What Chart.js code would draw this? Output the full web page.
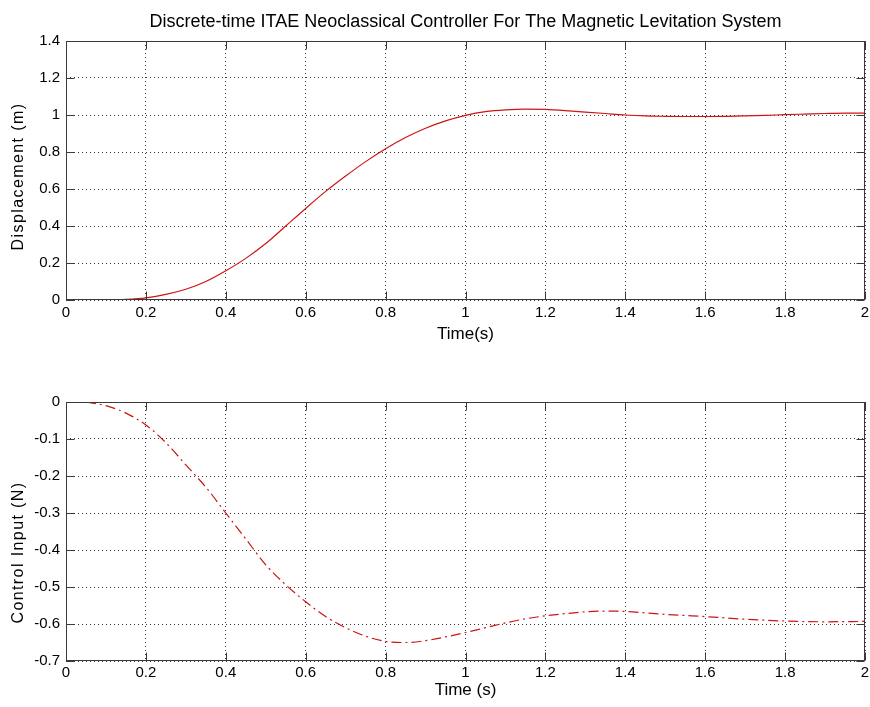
<!DOCTYPE html>
<html>
<head>
<meta charset="utf-8">
<script src="https://cdn.jsdelivr.net/npm/chart.js@4/dist/chart.umd.min.js"></script>
<style>
  body { margin: 0; background: #fff; }
  #wrap { position: relative; width: 870px; height: 707px; }
  canvas { position: absolute; left: 0; }
  #top { top: 0; }
  #bottom { top: 350px; }
</style>
</head>
<body>
<div id="wrap">
  <canvas id="top" width="870" height="350"></canvas>
  <canvas id="bottom" width="870" height="357"></canvas>
</div>
<script>
// displacement response (top plot)
const timeTop = [0.04, 0.1, 0.15, 0.2, 0.25, 0.3, 0.35, 0.4, 0.45, 0.5, 0.55, 0.6, 0.65, 0.7, 0.75, 0.8, 0.85, 0.9, 0.95, 1.0,
  1.05, 1.1, 1.15, 1.2, 1.25, 1.3, 1.35, 1.4, 1.45, 1.5, 1.55, 1.6, 1.65, 1.7, 1.75, 1.8, 1.85, 1.9, 1.95, 2.0];
const displacement = [0, 0.001, 0.004, 0.012, 0.03, 0.058, 0.1, 0.158, 0.225, 0.305, 0.4, 0.495, 0.587, 0.67, 0.748, 0.818, 0.878, 0.928, 0.968, 0.998,
  1.018, 1.028, 1.032, 1.03, 1.024, 1.016, 1.008, 1.0, 0.995, 0.993, 0.992, 0.992, 0.993, 0.995, 0.998, 1.002, 1.005, 1.008, 1.01, 1.01];

// control input (bottom plot)
const timeBottom = [0.05, 0.1, 0.15, 0.2, 0.25, 0.3, 0.35, 0.4, 0.45, 0.5, 0.55, 0.6, 0.65, 0.7, 0.75, 0.8, 0.85, 0.9, 0.95, 1.0,
  1.05, 1.1, 1.15, 1.2, 1.25, 1.3, 1.35, 1.4, 1.45, 1.5, 1.55, 1.6, 1.7, 1.8, 1.9, 2.0];
const controlInput = [0, -0.01, -0.03, -0.062, -0.11, -0.17, -0.23, -0.3, -0.37, -0.44, -0.494, -0.54, -0.58, -0.61, -0.633, -0.647, -0.65, -0.645, -0.635, -0.623,
  -0.61, -0.597, -0.586, -0.578, -0.572, -0.567, -0.565, -0.566, -0.57, -0.574, -0.577, -0.58, -0.587, -0.592, -0.594, -0.593];

const xTickLabels = ['0', '0.2', '0.4', '0.6', '0.8', '1', '1.2', '1.4', '1.6', '1.8', '2'];
const yTickLabelsTop = ['0', '0.2', '0.4', '0.6', '0.8', '1', '1.2', '1.4'];
const yTickLabelsBottom = ['-0.7', '-0.6', '-0.5', '-0.4', '-0.3', '-0.2', '-0.1', '0'];

const FONT = "'Liberation Sans', Arial, Helvetica, sans-serif";
const RED = '#cc1414';

// box round the axes with inward ticks, like matlab
const framePlugin = {
  id: 'frame',
  afterDatasetsDraw(chart) {
    const {ctx, chartArea: a, scales} = chart;
    const L = Math.round(a.left) + 0.5, R = Math.round(a.right) - 0.5;
    const T = Math.round(a.top) + 0.5, B = Math.round(a.bottom) - 0.5;
    ctx.save();
    ctx.strokeStyle = '#3a3a3a';
    ctx.lineWidth = 1;
    ctx.strokeRect(L, T, R - L, B - T);
    ctx.beginPath();
    scales.x.ticks.forEach(t => {
      const px = Math.round(scales.x.getPixelForValue(t.value)) + 0.5;
      ctx.moveTo(px, B); ctx.lineTo(px, B - 8);
      ctx.moveTo(px, T); ctx.lineTo(px, T + 8);
    });
    scales.y.ticks.forEach(t => {
      const py = Math.round(scales.y.getPixelForValue(t.value)) + 0.5;
      ctx.moveTo(L, py); ctx.lineTo(L + 8, py);
      ctx.moveTo(R, py); ctx.lineTo(R - 8, py);
    });
    ctx.stroke();
    ctx.restore();
  }
};

// vertical axis label (matlab puts it a bit off centre)
const yLabelPlugin = {
  id: 'yLabel',
  afterDraw(chart, args, opts) {
    const {ctx, chartArea: a} = chart;
    ctx.save();
    ctx.translate(19, (a.top + a.bottom) / 2 + opts.shift);
    ctx.rotate(-Math.PI / 2);
    ctx.font = '16px ' + FONT;
    ctx.letterSpacing = '1.4px';
    ctx.fillStyle = '#000';
    ctx.textAlign = 'center';
    ctx.textBaseline = 'middle';
    ctx.fillText(opts.text, 0, 0);
    ctx.restore();
  }
};

function makeChart(id, times, values, opt) {
  const pts = times.map((t, i) => ({x: t, y: values[i]}));
  const scales = {
    x: {
      type: 'linear',
      min: 0, max: 2,
      ticks: {
        stepSize: 0.2,
        color: '#000',
        padding: opt.xPad,
        maxRotation: 0,
        autoSkip: false,
        font: {family: FONT, size: 15},
        callback: (v, i) => xTickLabels[i]
      },
      grid: {color: 'rgba(0,0,0,0.8)', drawTicks: false},
      border: {display: false, dash: [1, 3]},
      title: {
        display: true,
        text: opt.xLabel,
        color: '#000',
        font: {family: FONT, size: 17},
        padding: {top: 0, bottom: opt.xTitlePad}
      },
      afterFit: s => { s.height = opt.xHeight; s.paddingRight = 5; }
    },
    y: {
      min: opt.yMin, max: opt.yMax,
      ticks: {
        stepSize: opt.yStep,
        color: '#000',
        padding: 6,
        autoSkip: false,
        font: {family: FONT, size: 15},
        callback: (v, i) => opt.yTicks[i]
      },
      grid: {color: 'rgba(0,0,0,0.8)', drawTicks: false},
      border: {display: false, dash: [1, 3]},
      afterFit: s => { s.width = 66; }
    }
  };
  if (opt.title) {
    // empty axis on top only to hold the title centred over the plot box
    scales.xTop = {
      type: 'linear',
      position: 'top',
      min: 0, max: 2,
      ticks: {display: false},
      grid: {display: false},
      border: {display: false},
      title: {
        display: true,
        text: opt.title,
        color: '#000',
        font: {family: FONT, size: 18},
        padding: {top: 11, bottom: 0}
      },
      afterFit: s => { s.height = 41; s.paddingRight = 5; }
    };
  }
  return new Chart(document.getElementById(id), {
    type: 'line',
    data: {
      datasets: [{
        data: pts,
        xAxisID: 'x',
        borderColor: RED,
        borderWidth: 1.2,
        borderDash: opt.dash,
        pointRadius: 0,
        cubicInterpolationMode: 'monotone',
        fill: false
      }]
    },
    options: {
      responsive: false,
      animation: false,
      events: [],
      layout: {padding: {top: opt.padTop, right: 0, left: 0, bottom: 0}},
      plugins: {
        legend: {display: false},
        tooltip: {enabled: false},
        title: {display: false},
        yLabel: {text: opt.yLabel, shift: opt.yShift}
      },
      scales: scales
    },
    plugins: [framePlugin, yLabelPlugin]
  });
}

makeChart('top', timeTop, displacement, {
  title: 'Discrete-time ITAE Neoclassical Controller For The Magnetic Levitation System',
  padTop: 0, xHeight: 50, xPad: 4, xTitlePad: 5,
  xLabel: 'Time(s)', yLabel: 'Displacement (m)', yShift: 6,
  yMin: 0, yMax: 1.4, yStep: 0.2, yTicks: yTickLabelsTop, dash: []
});

makeChart('bottom', timeBottom, controlInput, {
  title: null,
  padTop: 52, xHeight: 46, xPad: 3, xTitlePad: 6,
  xLabel: 'Time (s)', yLabel: 'Control Input (N)', yShift: 21,
  yMin: -0.7, yMax: 0, yStep: 0.1, yTicks: yTickLabelsBottom, dash: [10, 4, 2, 4]
});
</script>
</body>
</html>
